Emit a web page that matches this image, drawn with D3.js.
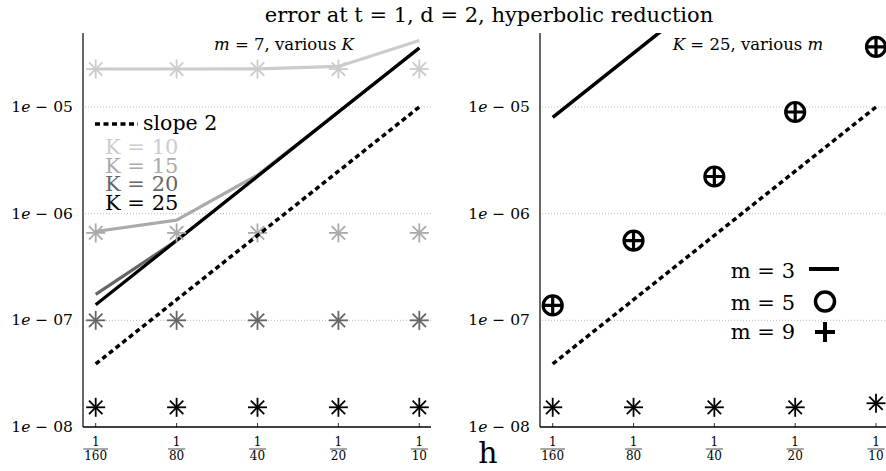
<!DOCTYPE html>
<html><head><meta charset="utf-8">
<script src="https://cdn.jsdelivr.net/npm/d3@7"></script>
<style>body{margin:0;background:#fff}svg{display:block}text{font-family:"DejaVu Serif",serif}</style>
</head><body>
<script>
// ---- data ----
const hValues = [1/160, 1/80, 1/40, 1/20, 1/10];
const hDenoms = ["160", "80", "40", "20", "10"];
const yTicks = [1e-8, 1e-7, 1e-6, 1e-5];
const yTickExp = ["08", "07", "06", "05"];
const slope2 = [3.9e-8, 1.56e-7, 6.25e-7, 2.5e-6, 1e-5];
// left panel: m = 7, various K (lines)
const kNames = ["K = 10", "K = 15", "K = 20", "K = 25"];
const kLineK10 = [2.27e-5, 2.27e-5, 2.28e-5, 2.4e-5, 4.2e-5];
const kLineK15 = [6.8e-7, 8.7e-7, 2.3e-6, 8.96e-6, 3.58e-5];
const kLineK20 = [1.75e-7, 5.6e-7, 2.24e-6, 8.96e-6, 3.58e-5];
const kLineK25 = [1.4e-7, 5.6e-7, 2.24e-6, 8.96e-6, 3.58e-5];
// left panel: star markers
const kStarK10 = [2.27e-5, 2.27e-5, 2.27e-5, 2.27e-5, 2.27e-5];
const kStarK15 = [6.6e-7, 6.6e-7, 6.6e-7, 6.6e-7, 6.6e-7];
const kStarK20 = [1e-7, 1e-7, 1e-7, 1e-7, 1e-7];
const kStarK25 = [1.53e-8, 1.53e-8, 1.53e-8, 1.53e-8, 1.53e-8];
// right panel: K = 25, various m
const mNames = ["m = 3", "m = 5", "m = 9"];
const mLine3 = [8e-6, 3.2e-5, 1.28e-4, 5.12e-4, 2.05e-3];
const mCirc5 = [1.38e-7, 5.6e-7, 2.23e-6, 8.98e-6, 3.66e-5];
const mPlus9 = [1.38e-7, 5.6e-7, 2.23e-6, 8.98e-6, 3.66e-5];
const mStar = [1.53e-8, 1.53e-8, 1.53e-8, 1.53e-8, 1.67e-8];

const W = 886, H = 471;
const svg = d3.select("body").append("svg").attr("width", W).attr("height", H);

const kColors = ["#cccccc", "#aaaaaa", "#666666", "#000000"];

const yTop = 33, yBot = 427;
const y = d3.scaleLog().domain([1e-8, 1e-5]).range([yBot, 107]);

function panel(opt) {
  const g = svg.append("g");
  const x = d3.scaleLog().base(2).domain([hValues[0], hValues[4]]).range(opt.xr);
  const clipId = "clip" + opt.id;
  svg.append("clipPath").attr("id", clipId).append("rect")
    .attr("x", opt.left).attr("y", yTop).attr("width", opt.right - opt.left).attr("height", yBot - yTop);
  // grid
  g.selectAll(".grid").data(yTicks.slice(1)).join("line")
    .attr("x1", opt.left + 2).attr("x2", opt.right).attr("y1", d => y(d)).attr("y2", d => y(d))
    .attr("stroke", "#aaa").attr("stroke-width", 0.8).attr("stroke-dasharray", "1,2");
  // axes
  g.append("line").attr("x1", opt.left).attr("x2", opt.left).attr("y1", yTop).attr("y2", yBot)
    .attr("stroke", "#000").attr("stroke-width", 1.2);
  g.append("line").attr("x1", opt.left).attr("x2", opt.right).attr("y1", yBot).attr("y2", yBot)
    .attr("stroke", "#000").attr("stroke-width", 1.5);
  // x ticks
  hValues.forEach((h, i) => {
    const xx = x(h);
    g.append("line").attr("x1", xx).attr("x2", xx).attr("y1", yBot).attr("y2", yBot - 4)
      .attr("stroke", "#000").attr("stroke-width", 0.8);
    g.append("text").attr("x", xx).attr("y", 446).attr("text-anchor", "middle")
      .attr("font-size", 12).text("1");
    const w = hDenoms[i].length * 7.6 + 2;
    g.append("line").attr("x1", xx - w / 2).attr("x2", xx + w / 2).attr("y1", 449).attr("y2", 449)
      .attr("stroke", "#000").attr("stroke-width", 0.7);
    g.append("text").attr("x", xx).attr("y", 460).attr("text-anchor", "middle")
      .attr("font-size", 12).text(hDenoms[i]);
  });
  // y tick labels
  yTicks.forEach((t, i) => {
    const tx = g.append("text").attr("x", opt.left - 10).attr("y", y(t) + 5)
      .attr("text-anchor", "end").attr("font-size", 15.5);
    tx.append("tspan").text("1");
    tx.append("tspan").attr("font-style", "italic").text("e");
    tx.append("tspan").text(" \u2212 " + yTickExp[i]);
  });
  const plot = g.append("g").attr("clip-path", `url(#${clipId})`);
  return { x, plot, g };
}

function star(sel, cx, cy, r, color) {
  const gg = sel.append("g").attr("transform", `translate(${cx},${cy})`)
    .attr("stroke", color).attr("stroke-width", 1.8);
  [0, 45, 90, 135].forEach(a => {
    const rad = a * Math.PI / 180;
    gg.append("line").attr("x1", -r * Math.cos(rad)).attr("y1", -r * Math.sin(rad))
      .attr("x2", r * Math.cos(rad)).attr("y2", r * Math.sin(rad));
  });
}

const lineGen = (x) => d3.line().x((d, i) => x(hValues[i])).y(d => y(d));

// ---------- left panel ----------
const L = panel({ id: "L", left: 83, right: 431, xr: [95.7, 419.3] });
[kLineK10, kLineK15, kLineK20, kLineK25].forEach((s, k) => {
  L.plot.append("path").datum(s).attr("d", lineGen(L.x)).attr("fill", "none")
    .attr("stroke", kColors[k]).attr("stroke-width", 3.2).attr("stroke-linejoin", "round");
});
[kStarK10, kStarK15, kStarK20, kStarK25].forEach((s, k) => {
  s.forEach((v, i) => star(L.plot, L.x(hValues[i]), y(v), 9.5, kColors[k]));
});
L.plot.append("path").datum(slope2).attr("d", lineGen(L.x)).attr("fill", "none")
  .attr("stroke", "#000").attr("stroke-width", 3.5).attr("stroke-dasharray", "5,3.5");
// subtitle
{
  const t = svg.append("text").attr("x", 284).attr("y", 50).attr("text-anchor", "middle").attr("font-size", 16.5);
  t.append("tspan").attr("font-style", "italic").text("m");
  t.append("tspan").text(" = 7, various ");
  t.append("tspan").attr("font-style", "italic").text("K");
}
// legend left
svg.append("line").attr("x1", 95).attr("x2", 138).attr("y1", 124).attr("y2", 124)
  .attr("stroke", "#000").attr("stroke-width", 3.5).attr("stroke-dasharray", "5,3.5");
svg.append("text").attr("x", 143).attr("y", 130).attr("font-size", 20.5).text("slope 2");
kNames.forEach((n, k) => {
  svg.append("text").attr("x", 105).attr("y", 154 + k * 18.5).attr("font-size", 21)
    .attr("fill", kColors[k]).text(n);
});

// ---------- right panel ----------
const R = panel({ id: "R", left: 540, right: 890, xr: [552.7, 876] });
R.plot.append("path").datum(mLine3).attr("d", lineGen(R.x)).attr("fill", "none")
  .attr("stroke", "#000").attr("stroke-width", 3.5);
mCirc5.forEach((v, i) => {
  R.plot.append("circle").attr("cx", R.x(hValues[i])).attr("cy", y(v)).attr("r", 9.5)
    .attr("fill", "none").attr("stroke", "#000").attr("stroke-width", 3.2);
});
mPlus9.forEach((v, i) => {
  const cx = R.x(hValues[i]), cy = y(v);
  R.plot.append("path").attr("d", `M${cx - 9},${cy}H${cx + 9}M${cx},${cy - 9}V${cy + 9}`)
    .attr("stroke", "#000").attr("stroke-width", 3.2);
});
mStar.forEach((v, i) => star(R.plot, R.x(hValues[i]), y(v), 9.5, "#000"));
R.plot.append("path").datum(slope2).attr("d", lineGen(R.x)).attr("fill", "none")
  .attr("stroke", "#000").attr("stroke-width", 3.5).attr("stroke-dasharray", "5,3.5");
{
  const t = svg.append("text").attr("x", 748).attr("y", 50).attr("text-anchor", "middle").attr("font-size", 16.5);
  t.append("tspan").attr("font-style", "italic").text("K");
  t.append("tspan").text(" = 25, various ");
  t.append("tspan").attr("font-style", "italic").text("m");
}
// legend right
const lgY = [278, 310, 339];
mNames.forEach((n, k) => {
  svg.append("text").attr("x", 795).attr("y", lgY[k]).attr("text-anchor", "end")
    .attr("font-size", 21).text(n);
});
svg.append("line").attr("x1", 809).attr("x2", 839).attr("y1", 269).attr("y2", 269)
  .attr("stroke", "#000").attr("stroke-width", 4);
svg.append("circle").attr("cx", 825).attr("cy", 301.5).attr("r", 9.5)
  .attr("fill", "none").attr("stroke", "#000").attr("stroke-width", 3.5);
svg.append("path").attr("d", "M815,332H835M825,322V342").attr("stroke", "#000").attr("stroke-width", 4);

// title & x label
svg.append("text").attr("x", 489).attr("y", 22).attr("text-anchor", "middle").attr("font-size", 21)
  .text("error at t = 1, d = 2, hyperbolic reduction");
svg.append("text").attr("x", 488).attr("y", 463).attr("text-anchor", "middle").attr("font-size", 30).text("h");
</script>
</body></html>
